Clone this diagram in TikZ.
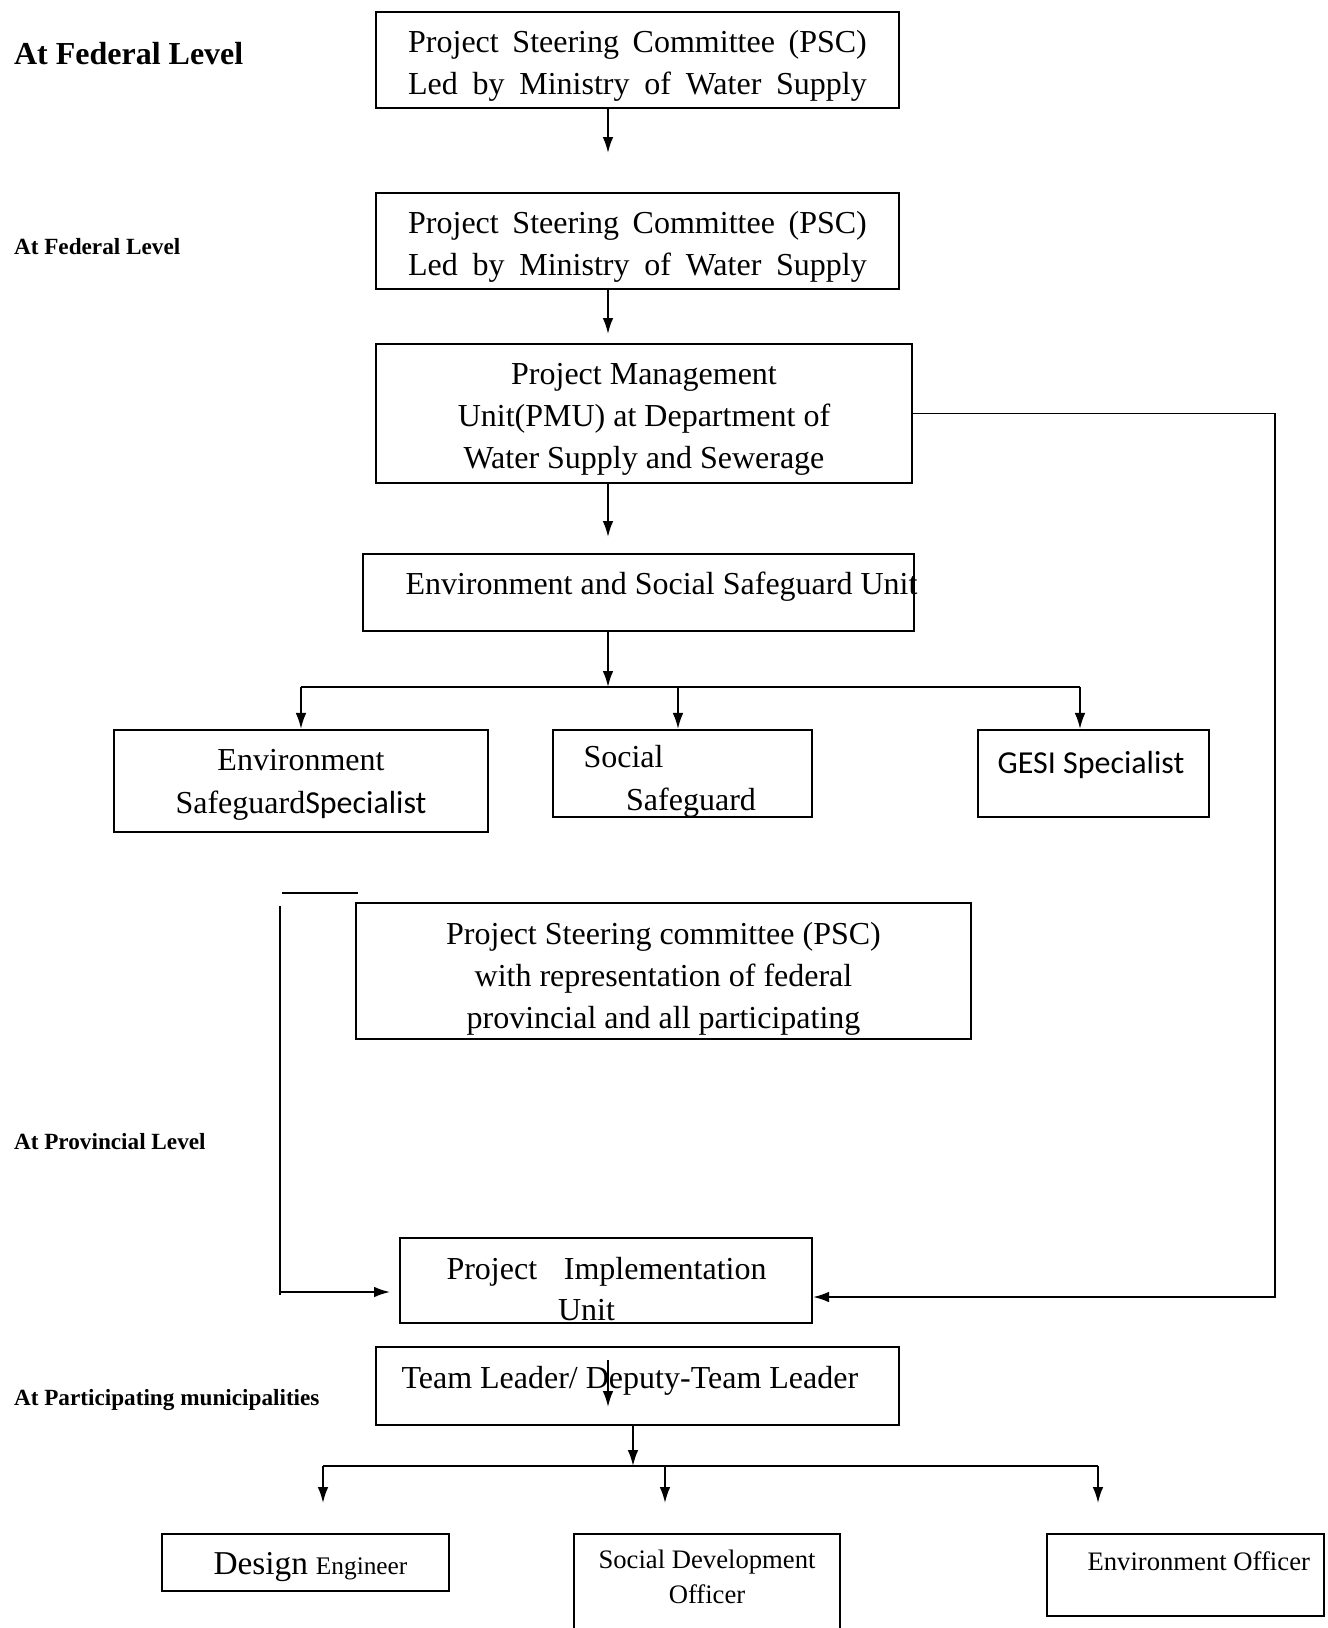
\documentclass[tikz,border=0pt]{standalone}
\usepackage{fontspec}
\setmainfont{Liberation Serif}
\newfontfamily\calibri{Carlito}
\usetikzlibrary{arrows.meta}
\tikzset{taille/.style 2 args={minimum width=#1*0.375pt,minimum height=#2*0.375pt}}

\begin{document}
\begin{tikzpicture}[x=0.375pt,y=-0.375pt]
            % Styles
            \tikzstyle{boite}=[draw,line width=0.8pt,rectangle,inner sep=0pt]
            \tikzstyle{fleche}=[-{Latex[length=6pt,width=4pt]},line width=0.7pt]
            \tikzstyle{trait}=[line width=0.7pt]
            \tikzstyle{texte}=[inner sep=0pt,align=left,font=\fontsize{12}{15.7}\selectfont]
            \tikzstyle{centre}=[inner sep=0pt,align=center,font=\fontsize{12}{15.7}\selectfont]
            \tikzstyle{titre}=[inner sep=0pt,anchor=west,font=\bfseries\fontsize{8.7}{10}\selectfont]
            \useasboundingbox (0,0) rectangle (1328,1628);
            % Niveaux
            \node[titre,font=\bfseries\fontsize{12}{14}\selectfont] (niveauA) at (13.5,54) {At Federal Level};
            \node[titre] (niveauB) at (13.5,247) {At Federal Level};
            \node[titre] (niveauC) at (13.5,1142) {At Provincial Level};
            \node[titre] (niveauD) at (13.5,1400) {At Participating municipalities};
            % Boites
            \node[boite,taille={523}{95.5}] (psc1) at (637.5,60) {};
            \node[boite,taille={523}{96}] (psc2) at (637.5,241) {};
            \node[boite,taille={536}{139}] (pmu) at (644,413.5) {};
            \node[boite,taille={551}{77}] (essu) at (638.5,592.5) {};
            \node[boite,taille={374}{102}] (ess) at (301,781) {};
            \node[boite,taille={259}{87}] (sos) at (682.5,773.5) {};
            \node[boite,taille={231}{87}] (gesi) at (1093.5,773.5) {};
            \node[boite,taille={615}{136}] (pscp) at (663.5,971) {};
            \node[boite,taille={412}{85}] (piu) at (606,1280.5) {};
            \node[boite,taille={523}{78}] (tl) at (637.5,1386) {};
            \node[boite,taille={287}{57}] (de) at (305.5,1562.5) {};
            \node[boite,taille={266}{98}] (sdo) at (707,1583) {};
            \node[boite,taille={277}{82}] (eo) at (1185.5,1575) {};
            % Textes
            \node[centre] (psc1T) at (637.5,66) {\makebox[172pt][s]{Project Steering Committee (PSC)}\\\makebox[172pt][s]{Led by Ministry of Water Supply}};
            \node[centre] (psc2T) at (637.5,247) {\makebox[172pt][s]{Project Steering Committee (PSC)}\\\makebox[172pt][s]{Led by Ministry of Water Supply}};
            \node[centre] (pmuT) at (644,419) {Project Management\\Unit(PMU) at Department of\\Water Supply and Sewerage};
            \node[texte,anchor=west] (essuT) at (405,587) {Environment and Social Safeguard Unit};
            \node[centre,font=\fontsize{12}{16}\selectfont] (essT) at (301,785) {Environment\\Safeguard{\calibri Specialist}};
            \node[texte,anchor=west,font=\fontsize{12}{16}\selectfont] (sosT) at (583,781.5) {Social\\\hspace{16pt}Safeguard};
            \node[texte,font=\calibri\fontsize{12}{14}\selectfont] (gesiT) at (1091,765) {GESI Specialist};
            \node[centre] (pscpT) at (663.5,979) {Project Steering committee (PSC)\\with representation of federal\\provincial and all participating};
            \node[texte,anchor=west] (piuT) at (446,1289) {\makebox[120pt][s]{Project Implementation}\\\hspace{41.8pt}Unit};
            \node[texte,anchor=west] (tlT) at (401,1381) {Team Leader/ Deputy-Team Leader};
            \node[texte,anchor=west] (deT) at (213,1567) {{\fontsize{12.5}{14}\selectfont Design} {\fontsize{9.5}{11}\selectfont Engineer}};
            \node[centre,font=\fontsize{10}{13.3}\selectfont] (sdoT) at (707,1577) {Social Development\\Officer};
            \node[texte,anchor=west,font=\fontsize{10}{12}\selectfont] (eoT) at (1087,1561) {Environment Officer};
            % Points libres
            \coordinate (a1) at (608,153);
            \coordinate (a2) at (608,334);
            \coordinate (a3) at (608,537);
            \coordinate (j1) at (608,687);
            \coordinate (g1) at (301,687);
            \coordinate (m1) at (678,687);
            \coordinate (d1) at (1080,687);
            \coordinate (r1) at (1275,1297);
            \coordinate (l0) at (282,893);
            \coordinate (l1) at (358,893);
            \coordinate (l2) at (280,906);
            \coordinate (l3) at (280,1295);
            \coordinate (l4) at (280,1292);
            \coordinate (l5) at (390,1292);
            \coordinate (t0) at (608,1360);
            \coordinate (t1) at (608,1407);
            \coordinate (j2) at (633,1466);
            \coordinate (g2) at (323,1466);
            \coordinate (m2) at (665,1466);
            \coordinate (d2) at (1098,1466);
            \coordinate (b1) at (323,1503);
            \coordinate (b2) at (665,1503);
            \coordinate (b3) at (1098,1503);
            % Arcs
            \draw[fleche] (psc1.south -| a1) -- (a1);
            \draw[fleche] (psc2.south -| a2) -- (a2);
            \draw[fleche] (pmu.south -| a3) -- (a3);
            \draw[fleche] (essu.south -| j1) -- (j1);
            \draw[trait] (g1) -- (d1);
            \draw[fleche] (g1) -- (ess.north);
            \draw[fleche] (m1) -- (m1 |- sos.north);
            \draw[fleche] (d1) -- (d1 |- gesi.north);
            \draw[fleche] (pmu.east) -| (r1) -- (r1 -| piu.east);
            \draw[trait] (l0) -- (l1);
            \draw[trait] (l2) -- (l3);
            \draw[fleche] (l4) -- (l5);
            \draw[fleche] (t0) -- (t1);
            \draw[fleche] (tl.south -| j2) -- (j2);
            \draw[trait] (g2) -- (d2);
            \draw[fleche] (g2) -- (b1);
            \draw[fleche] (m2) -- (b2);
            \draw[fleche] (d2) -- (b3);
\end{tikzpicture}
\end{document}
